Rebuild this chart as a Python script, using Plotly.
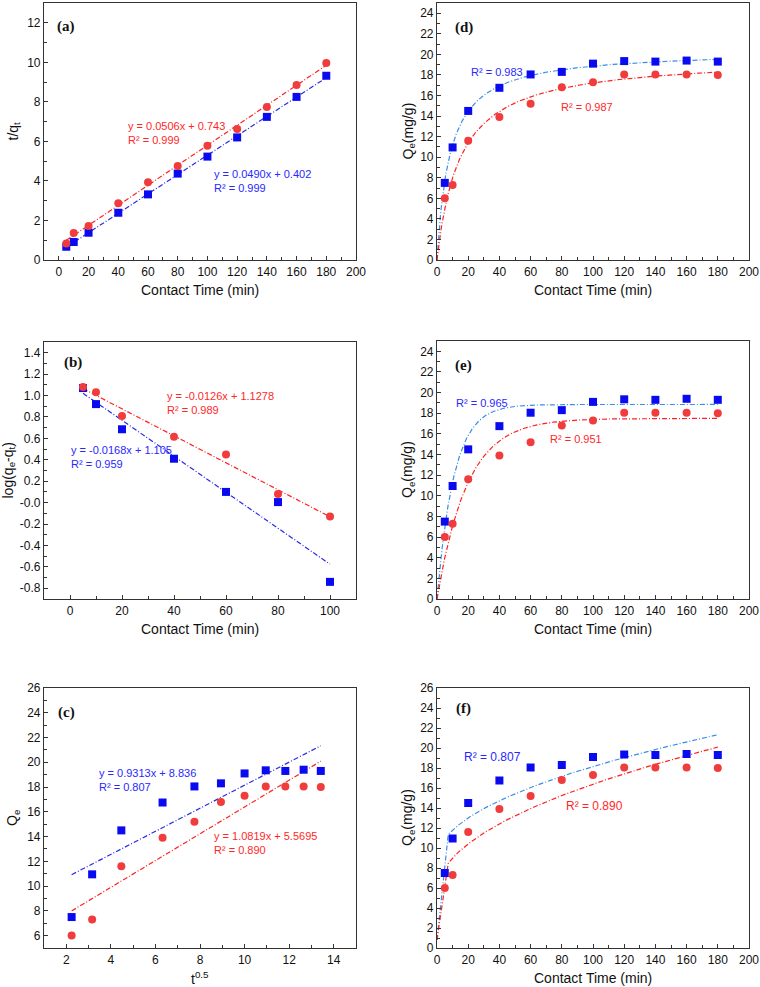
import numpy as np
import plotly.graph_objects as go

# contact times (min)
time = [5, 10, 20, 40, 60, 80, 100, 120, 140, 160, 180]
sqrt_time = [2.24, 3.16, 4.47, 6.32, 7.75, 8.94, 10.0, 10.95, 11.83, 12.65, 13.42]

# uptake Qe (mg/g)
qe_blue = [7.5, 10.95, 14.5, 16.75, 18.05, 18.3, 19.1, 19.35, 19.3, 19.4, 19.3]
qe_red = [6.0, 7.3, 11.6, 13.9, 15.2, 16.8, 17.3, 18.05, 18.05, 18.05, 18.0]

# (a) t/qt
tq_blue = [0.67, 0.91, 1.38, 2.39, 3.32, 4.37, 5.23, 6.2, 7.24, 8.25, 9.32]
tq_red = [0.83, 1.37, 1.72, 2.87, 3.93, 4.75, 5.78, 6.63, 7.74, 8.85, 9.97]

# (b) log(qe-qt)
time_b = [5, 10, 20, 40, 60, 80, 100]
log_blue = [1.07, 0.92, 0.685, 0.41, 0.10, 0.005, -0.74]
log_red = [1.08, 1.03, 0.81, 0.615, 0.45, 0.08, -0.13]

# fitted parameters shown on the chart
lin_a_blue = (0.0490, 0.402)
lin_a_red = (0.0506, 0.743)
lin_b_blue = (-0.0168, 1.105)
lin_b_red = (-0.0126, 1.1278)
lin_c_blue = (0.9313, 8.836)
lin_c_red = (1.0819, 5.5695)
pfo_blue = (18.85, 0.092)   # qe, k1 for (e)
pfo_red = (17.5, 0.052)
ipd_start = 0.8             # first point of the (f) curves

RED_MK = "#f03c3c"
BLUE_MK = "#0a0af0"
RED_LN = "#ff2020"
BLUE_DK = "#2a2ae6"
BLUE_LT = "#3a8ee6"
RED_TXT = "#ff2828"
BLUE_TXT = "#2828ff"
DASH = "5px,2px,1px,2px"

W, H = 760, 987


def px(x):
    return x / W


def py(y):
    return 1 - y / H


# plot boxes in pixels: left, right, top, bottom
boxes = {
    1: (44, 356, 3, 260),     # (a)
    2: (437, 749, 3, 260),    # (d)
    3: (44, 356, 342, 599),   # (b)
    4: (437, 749, 341, 599),  # (e)
    5: (44, 356, 688, 948),   # (c)
    6: (437, 749, 688, 948),  # (f)
}

fig = go.Figure()


def ax(n):
    return ("x" if n == 1 else f"x{n}"), ("y" if n == 1 else f"y{n}")


def scatter(n, x, y, color, symbol):
    xa, ya = ax(n)
    fig.add_trace(go.Scatter(x=x, y=y, mode="markers", xaxis=xa, yaxis=ya,
                             marker=dict(color=color, symbol=symbol, size=8, line=dict(width=0)),
                             showlegend=False))


def line(n, x, y, color):
    xa, ya = ax(n)
    fig.add_trace(go.Scatter(x=x, y=y, mode="lines", xaxis=xa, yaxis=ya,
                             line=dict(color=color, width=1.2, dash=DASH),
                             showlegend=False))


# (a) pseudo-second-order linear plot
xa_fit = np.linspace(5, 180, 50)
line(1, xa_fit, lin_a_red[0] * xa_fit + lin_a_red[1], RED_LN)
line(1, xa_fit, lin_a_blue[0] * xa_fit + lin_a_blue[1], BLUE_DK)
scatter(1, time, tq_blue, BLUE_MK, "square")
scatter(1, time, tq_red, RED_MK, "circle")

# (b) pseudo-first-order linear plot
xb_fit = np.linspace(5, 100, 50)
line(3, xb_fit, lin_b_red[0] * xb_fit + lin_b_red[1], RED_LN)
line(3, xb_fit, lin_b_blue[0] * xb_fit + lin_b_blue[1], BLUE_DK)
scatter(3, time_b, log_blue, BLUE_MK, "square")
scatter(3, time_b, log_red, RED_MK, "circle")

# (c) intra-particle diffusion
xc_fit = np.linspace(sqrt_time[0], sqrt_time[-1], 50)
line(5, xc_fit, lin_c_blue[0] * xc_fit + lin_c_blue[1], BLUE_DK)
line(5, xc_fit, lin_c_red[0] * xc_fit + lin_c_red[1], RED_LN)
scatter(5, sqrt_time, qe_blue, BLUE_MK, "square")
scatter(5, sqrt_time, qe_red, RED_MK, "circle")

# (d) pseudo-second-order curves from (a)
t = np.linspace(0, 180, 400)
for (s, b), col in [(lin_a_blue, BLUE_LT), (lin_a_red, RED_LN)]:
    q = 1 / s
    k = s * s / b
    line(2, t, q * q * k * t / (1 + q * k * t), col)
scatter(2, time, qe_blue, BLUE_MK, "square")
scatter(2, time, qe_red, RED_MK, "circle")

# (e) pseudo-first-order curves
for (q, k), col in [(pfo_blue, BLUE_LT), (pfo_red, RED_LN)]:
    line(4, t, q * (1 - np.exp(-k * t)), col)
scatter(4, time, qe_blue, BLUE_MK, "square")
scatter(4, time, qe_red, RED_MK, "circle")

# (f) intra-particle diffusion curves vs time
tf = np.linspace(7.2, 180, 200)
for (s, b), col in [(lin_c_blue, BLUE_LT), (lin_c_red, RED_LN)]:
    line(6, np.r_[0, tf], np.r_[ipd_start, s * np.sqrt(tf) + b], col)
scatter(6, time, qe_blue, BLUE_MK, "square")
scatter(6, time, qe_red, RED_MK, "circle")

axis_style = dict(showline=True, mirror=True, linecolor="#333333", linewidth=1.2,
                  ticks="inside", ticklen=4, tickwidth=1, tickcolor="#333333",
                  showgrid=False, zeroline=False, automargin=False,
                  tickfont=dict(family="Liberation Sans, Arial", size=12, color="#111111"))


def minor(d):
    return dict(ticks="inside", ticklen=2.5, tickwidth=1, tickcolor="#333333", dtick=d, showgrid=False)


xcfg = {
    1: dict(range=[-10, 200], tickvals=list(range(0, 201, 20)), minor=minor(10)),
    2: dict(range=[0, 200], tickvals=list(range(0, 201, 20)), minor=minor(10)),
    3: dict(range=[-10, 110], tickvals=list(range(0, 101, 20)), minor=minor(10)),
    4: dict(range=[0, 200], tickvals=list(range(0, 201, 20)), minor=minor(10)),
    5: dict(range=[1, 15], tickvals=list(range(2, 15, 2)), minor=minor(1)),
    6: dict(range=[0, 200], tickvals=list(range(0, 201, 20)), minor=minor(10)),
}
b_ticks = [round(v, 1) for v in np.arange(-0.8, 1.41, 0.2)]
ycfg = {
    1: dict(range=[0, 13], tickvals=list(range(0, 13, 2)), minor=minor(1)),
    2: dict(range=[0, 25], tickvals=list(range(0, 25, 2)), minor=minor(1)),
    3: dict(range=[-0.9, 1.5], tickvals=b_ticks,
            ticktext=[f"{v:.1f}" for v in b_ticks], minor=minor(0.1)),
    4: dict(range=[0, 25], tickvals=list(range(0, 25, 2)), minor=minor(1)),
    5: dict(range=[5, 26], tickvals=list(range(6, 27, 2)), minor=minor(1)),
    6: dict(range=[0, 26], tickvals=list(range(0, 27, 2)), minor=minor(1)),
}

layout = {}
for n, (l, r, tp, bt) in boxes.items():
    xa, ya = ax(n)
    xkey = "xaxis" if n == 1 else f"xaxis{n}"
    ykey = "yaxis" if n == 1 else f"yaxis{n}"
    layout[xkey] = dict(axis_style, domain=[px(l), px(r)], anchor=ya, **xcfg[n])
    layout[ykey] = dict(axis_style, domain=[py(bt), py(tp)], anchor=xa, **ycfg[n])

fig.update_layout(**layout)

annotations = []
txt_font = dict(family="Liberation Sans, Arial", size=11)


def note(n, x, y, text, color, size=11):
    xa, ya = ax(n)
    annotations.append(dict(x=x, y=y, xref=xa, yref=ya, text=text, showarrow=False,
                            xanchor="left", yanchor="middle", align="left",
                            font=dict(txt_font, color=color, size=size)))


def label(n, x, y, text):
    xa, ya = ax(n)
    annotations.append(dict(x=x, y=y, xref=xa, yref=ya, text=f"<b>{text}</b>", showarrow=False,
                            xanchor="center", yanchor="middle",
                            font=dict(family="Liberation Serif, Times New Roman", size=15, color="#111111")))


label(1, 5, 11.8, "(a)")
label(2, 17, 22.6, "(d)")
label(3, 1, 1.31, "(b)")
label(4, 17, 22.6, "(e)")
label(5, 2.0, 24.0, "(c)")
label(6, 17, 24.0, "(f)")

note(1, 45, 6.4, "y = 0.0506x + 0.743<br>R² = 0.999", RED_TXT)
note(1, 103, 4.0, "y = 0.0490x + 0.402<br>R² = 0.999", BLUE_TXT)
note(3, 36.4, 0.93, "y = -0.0126x + 1.1278<br>R² = 0.989", RED_TXT)
note(3, -0.4, 0.43, "y = -0.0168x + 1.105<br>R² = 0.959", BLUE_TXT)
note(5, 3.39, 18.55, "y = 0.9313x + 8.836<br>R² = 0.807", BLUE_TXT)
note(5, 8.53, 13.5, "y = 1.0819x + 5.5695<br>R² = 0.890", RED_TXT)
note(2, 20.5, 18.3, "R² = 0.983", BLUE_TXT)
note(2, 78.2, 14.9, "R² = 0.987", RED_TXT)
note(4, 10.7, 19.0, "R² = 0.965", BLUE_TXT)
note(4, 71.2, 15.5, "R² = 0.951", RED_TXT)
note(6, 16.0, 19.1, "R² = 0.807", BLUE_TXT, 12)
note(6, 81.2, 14.2, "R² = 0.890", RED_TXT, 12)

title_font = dict(family="Liberation Sans, Arial", size=14, color="#111111")
x_titles = {1: "Contact Time (min)", 2: "Contact Time (min)", 3: "Contact Time (min)",
            4: "Contact Time (min)", 5: "t<sup>0.5</sup>", 6: "Contact Time (min)"}
y_titles = {1: "t/q<sub>t</sub>", 2: "Q<sub>e</sub>(mg/g)", 3: "log(q<sub>e</sub>-q<sub>t</sub>)",
            4: "Q<sub>e</sub>(mg/g)", 5: "Q<sub>e</sub>", 6: "Q<sub>e</sub>(mg/g)"}
y_title_x = {1: 13, 2: 408, 3: 9, 4: 408, 5: 13, 6: 408}

for n, (l, r, tp, bt) in boxes.items():
    annotations.append(dict(x=px((l + r) / 2), y=py(bt + 30), xref="paper", yref="paper",
                            text=x_titles[n], showarrow=False, xanchor="center", yanchor="middle",
                            font=title_font))
    annotations.append(dict(x=px(y_title_x[n]), y=py((tp + bt) / 2), xref="paper", yref="paper",
                            text=y_titles[n], showarrow=False, textangle=-90,
                            xanchor="center", yanchor="middle", font=title_font))

fig.update_layout(
    width=W, height=H,
    margin=dict(l=0, r=0, t=0, b=0),
    paper_bgcolor="white",
    plot_bgcolor="white",
    annotations=annotations,
    showlegend=False,
)

# the page body has a default 8px margin; drop it so the figure fills the window
fig.write_html("out.html", config={"displayModeBar": False},
               post_script="document.body.style.margin='0';document.body.style.overflow='hidden';")
